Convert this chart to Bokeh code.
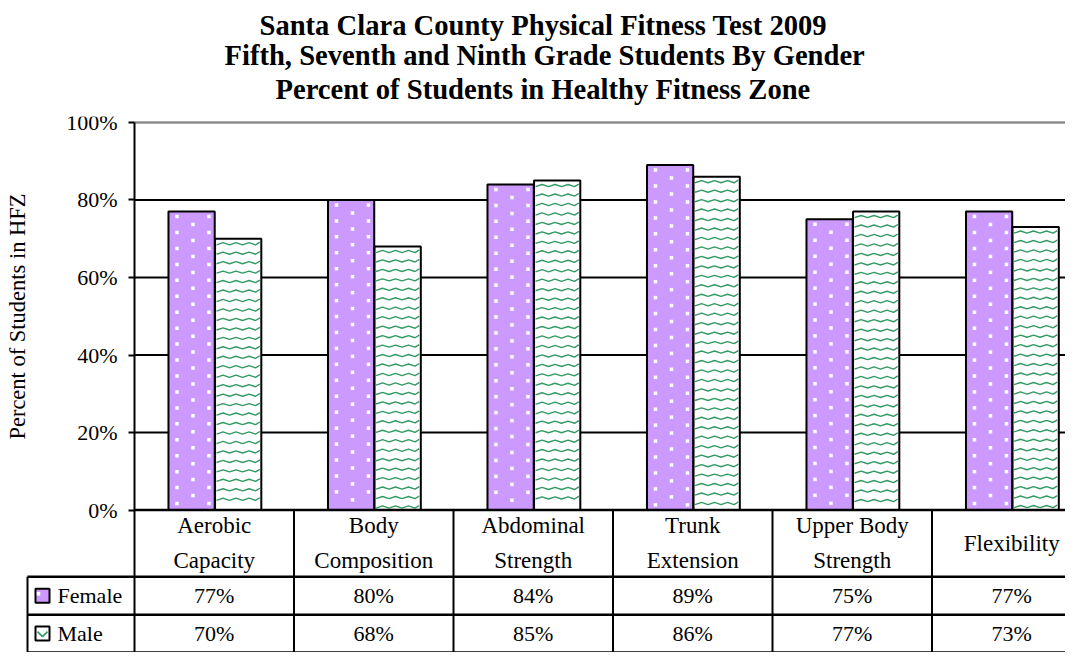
import numpy as np
from bokeh.plotting import figure
from bokeh.models import Title, FixedTicker, NumeralTickFormatter, Range1d
from bokeh.core.properties import value
from bokeh.embed import file_html
from bokeh.resources import INLINE

# ---------------- data ----------------
title_lines = [
    "Santa Clara County Physical Fitness Test 2009",
    "Fifth, Seventh and Ninth Grade Students By Gender",
    "Percent of Students in Healthy Fitness Zone",
]
categories = ["Aerobic\nCapacity", "Body\nComposition", "Abdominal\nStrength",
              "Trunk\nExtension", "Upper Body\nStrength", "Flexibility"]
series_names = ["Female", "Male"]
female = [0.77, 0.80, 0.84, 0.89, 0.75, 0.77]
male = [0.70, 0.68, 0.85, 0.86, 0.77, 0.73]
y_ticks = [0, 0.2, 0.4, 0.6, 0.8, 1.0]
y_label = "Percent of Students in HFZ"

# ---------------- layout constants ----------------
W, H = 1065, 652
PX_X = 159.5           # pixels per category
AXIS_X = 134           # pixel position of value axis inside figure
PX_Y = 389             # pixels per 100%
ZERO_Y = 509           # pixel row of 0% from figure top
TOP_PAD = 6
FRAME_TOP = ZERO_Y - PX_Y - TOP_PAD
HEAD_H = 67 / PX_Y
ROW_H = 38 / PX_Y
LBL_LEFT = (27 - AXIS_X) / PX_X
KEY_X = (42 - AXIS_X) / PX_X
NAME_X = (57 - AXIS_X) / PX_X
BAR_W = 0.29
OFF_F, OFF_M = 0.358, 0.650
TITLE_LEFT = [259, 224, 275]
TITLE_STANDOFF = [14, -20, 23]

SERIF = "Liberation Serif"
FEMALE_FILL = "#CC99FF"
MALE_LINE = "#339966"

n = len(categories)
x_start = -AXIS_X / PX_X
x_end = (W - AXIS_X) / PX_X
y_start = -(H - ZERO_Y) / PX_Y
y_end = 1 + TOP_PAD / PX_Y

p = figure(width=W, height=H, output_backend="svg", toolbar_location=None,
           x_range=Range1d(x_start, x_end), y_range=Range1d(y_start, y_end),
           x_axis_location=None, y_axis_location="left", title=None,
           min_border_left=0, min_border_right=0, min_border_bottom=0,
           min_border_top=FRAME_TOP)
p.outline_line_color = None
p.grid.visible = False
p.background_fill_color = "white"
p.border_fill_color = "white"

# titles (line nearest the plot added first)
for k in (2, 1, 0):
    p.add_layout(Title(text=title_lines[k], align="left", offset=TITLE_LEFT[k],
                       text_font=SERIF, text_font_style="bold",
                       text_font_size="28.6px", text_color="black",
                       standoff=TITLE_STANDOFF[k]), "above")

# value axis
ax = p.yaxis[0]
ax.fixed_location = 0
ax.bounds = (0, 1)
ax.ticker = FixedTicker(ticks=y_ticks)
ax.formatter = NumeralTickFormatter(format="0%")
ax.axis_line_width = 2
ax.axis_line_color = "black"
ax.major_tick_line_width = 2
ax.major_tick_out = 6
ax.major_tick_in = 0
ax.minor_tick_line_color = None
ax.major_label_text_font = SERIF
ax.major_label_text_font_size = "22px"
ax.major_label_text_color = "black"
ax.major_label_standoff = 11
ax.axis_label = y_label
ax.axis_label_text_font = SERIF
ax.axis_label_text_font_size = "22.5px"
ax.axis_label_text_font_style = "normal"
ax.axis_label_text_color = "black"
ax.axis_label_standoff = 33

# gridlines
grid_y = [t for t in y_ticks if 0 < t < 1]
p.segment(x0=[0] * len(grid_y), x1=[n] * len(grid_y), y0=grid_y, y1=grid_y,
          line_color="black", line_width=2)
p.segment(x0=[0], x1=[n], y0=[y_ticks[-1]], y1=[y_ticks[-1]],
          line_color="#8c8c8c", line_width=2.5)

# bars
xs = list(range(n))
xf = [i + OFF_F for i in xs]
xm = [i + OFF_M for i in xs]
p.vbar(x=xf, top=female, bottom=0, width=BAR_W,
       fill_color=FEMALE_FILL, line_color="black", line_width=2)
p.vbar(x=xm, top=male, bottom=0, width=BAR_W,
       fill_color="white", line_color="black", line_width=2)


# ---- fill patterns (derived from bar geometry) ----
def dot_pattern(xc, top, w_px, h_px):
    """Staggered white squares, Excel 'dotted' fill look."""
    left = xc - w_px / 2 / PX_X
    dx, dy = [], []
    r = 0
    while 5 + 8 * r < h_px - 3:
        offs = [8.5, 40.5] if r % 2 == 0 else [24.5]
        for o in offs:
            if o < w_px - 3:
                dx.append(left + o / PX_X)
                dy.append(top - (5 + 8 * r) / PX_Y)
        r += 1
    return dx, dy


def zig_pattern(xc, top, w_px, h_px, period=13.0, amp=2.0, step=9.5):
    """Green zigzag rows, Excel 'wave' fill look."""
    left = xc - w_px / 2 / PX_X
    t = np.concatenate([np.arange(1.5, w_px - 1.5, period / 2), [w_px - 1.5]])
    tri = amp * (1 - 4 * np.abs(((t / period) % 1.0) - 0.5))
    mx, my = [], []
    r = 0
    while 5 + step * r < h_px - 3:
        base = top - (5 + step * r) / PX_Y
        mx.append(list(left + t / PX_X))
        my.append(list(base + tri / PX_Y))
        r += 1
    return mx, my


bw_px = BAR_W * PX_X
fdx, fdy = [], []
for x0, v in zip(xf, female):
    a, b = dot_pattern(x0, v, bw_px, v * PX_Y)
    fdx += a
    fdy += b
p.scatter(x=fdx, y=fdy, marker="square", size=3.5, fill_color="white", line_color=None)

mzx, mzy = [], []
for x0, v in zip(xm, male):
    a, b = zig_pattern(x0, v, bw_px, v * PX_Y)
    mzx += a
    mzy += b
p.multi_line(xs=mzx, ys=mzy, line_color=MALE_LINE, line_width=1.4)

# data table lines
y_hb = -HEAD_H
y_fb = -(HEAD_H + ROW_H)
y_mb = -(HEAD_H + 2 * ROW_H)
p.segment(x0=[0, LBL_LEFT, LBL_LEFT, LBL_LEFT], x1=[n, n, n, n],
          y0=[0, y_hb, y_fb, y_mb], y1=[0, y_hb, y_fb, y_mb],
          line_color="black", line_width=2.5)
vx = list(range(n + 1))
p.segment(x0=vx, x1=vx, y0=[0] * len(vx), y1=[y_mb] * len(vx),
          line_color="black", line_width=2)
p.segment(x0=[LBL_LEFT], x1=[LBL_LEFT], y0=[y_hb], y1=[y_mb],
          line_color="black", line_width=2)

# table texts
centers = [i + 0.5 for i in xs]
p.text(x=centers, y=[-HEAD_H / 2] * n, text=categories,
       text_font=value(SERIF), text_font_size=value("23px"),
       text_align="center", text_baseline="middle", text_line_height=1.4,
       text_color="black")
row_y = [(y_hb + y_fb) / 2, (y_fb + y_mb) / 2]
for ry, vals in zip(row_y, (female, male)):
    p.text(x=centers, y=[ry] * n, text=[f"{round(v * 100)}%" for v in vals],
           text_font=value(SERIF), text_font_size=value("22px"),
           text_align="center", text_baseline="middle", text_color="black")

p.text(x=[NAME_X] * 2, y=row_y, text=series_names,
       text_font=value(SERIF), text_font_size=value("22px"),
       text_align="left", text_baseline="middle", text_color="black")

# legend keys
KEY = 14
p.rect(x=[KEY_X], y=[row_y[0]], width=KEY, height=KEY,
       width_units="screen", height_units="screen",
       fill_color=FEMALE_FILL, line_color="black", line_width=2)
p.scatter(x=[KEY_X - 4 / PX_X], y=[row_y[0] + 2 / PX_Y], marker="square",
          size=3.5, fill_color="white", line_color=None)
p.rect(x=[KEY_X], y=[row_y[1]], width=KEY, height=KEY,
       width_units="screen", height_units="screen",
       fill_color="white", line_color="black", line_width=2)
kx = np.array([-5.0, 0.0, 5.0])
ky = np.array([2.0, -3.0, 2.0])
p.line(x=list(KEY_X + kx / PX_X), y=list(row_y[1] + ky / PX_Y),
       line_color=MALE_LINE, line_width=1.6)

open("out.html", "w").write(file_html(p, INLINE))
